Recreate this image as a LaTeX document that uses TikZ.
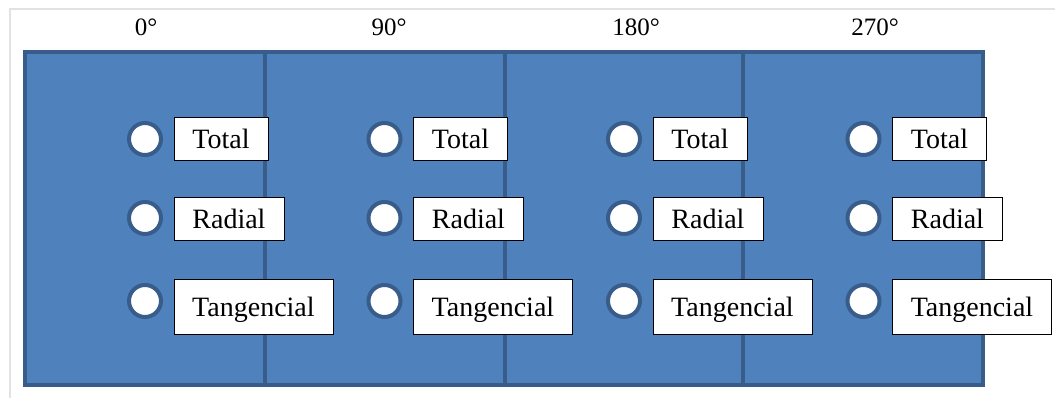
\documentclass[tikz,border=0pt]{standalone}
\usepackage{fontspec}
\setmainfont{Liberation Serif}
\definecolor{panelfill}{HTML}{4F81BD}
\definecolor{panelline}{HTML}{385D8A}
\definecolor{framegray}{HTML}{E2E2E2}
\begin{document}
\begin{tikzpicture}[x=1pt,y=-1pt,
  panel/.style={draw=panelline,fill=panelfill,line width=4pt},
  divider/.style={draw=panelline,line width=4pt},
  probe/.style={circle,draw=panelline,fill=white,line width=4pt,minimum size=32pt,inner sep=0pt},
  tag/.style={draw=black,fill=white,line width=0.9pt,anchor=west,inner sep=0pt,
    text depth=0pt,font=\fontsize{28}{28}\selectfont},
  angle/.style={font=\fontsize{25}{25}\selectfont}]
\useasboundingbox (0,0) rectangle (1055,398);
% light page frame
\draw[framegray,line width=2pt] (10,398) -- (10,9) -- (1055,9);
% outer panel and column dividers
\draw[panel] (25,52) rectangle (983,385);
\foreach \x in {265,505,743} \draw[divider] (\x,52) -- (\x,385);
% angle headings
\node[angle] (a0) at (146,27) {0°};
\node[angle] (a90) at (389,27) {90°};
\node[angle] (a180) at (636,27) {180°};
\node[angle] (a270) at (875,27) {270°};
% probes and their labels in each column
\foreach \i in {0,1,2,3}{
  \pgfmathsetmacro{\cx}{145+239.5*\i}
  \pgfmathsetmacro{\bx}{173.5+239.5*\i}
  \node[probe] (c1-\i) at (\cx,139) {};
  \node[probe] (c2-\i) at (\cx,218) {};
  \node[probe] (c3-\i) at (\cx,301) {};
  \node[tag,minimum width=94pt,minimum height=43pt] (t1-\i) at (\bx,138.5) {Total};
  \node[tag,minimum width=110pt,minimum height=43pt] (t2-\i) at (\bx,218.5) {Radial};
  \node[tag,minimum width=159pt,minimum height=55pt] (t3-\i) at (\bx,307) {Tangencial};
}
\end{tikzpicture}
\end{document}
